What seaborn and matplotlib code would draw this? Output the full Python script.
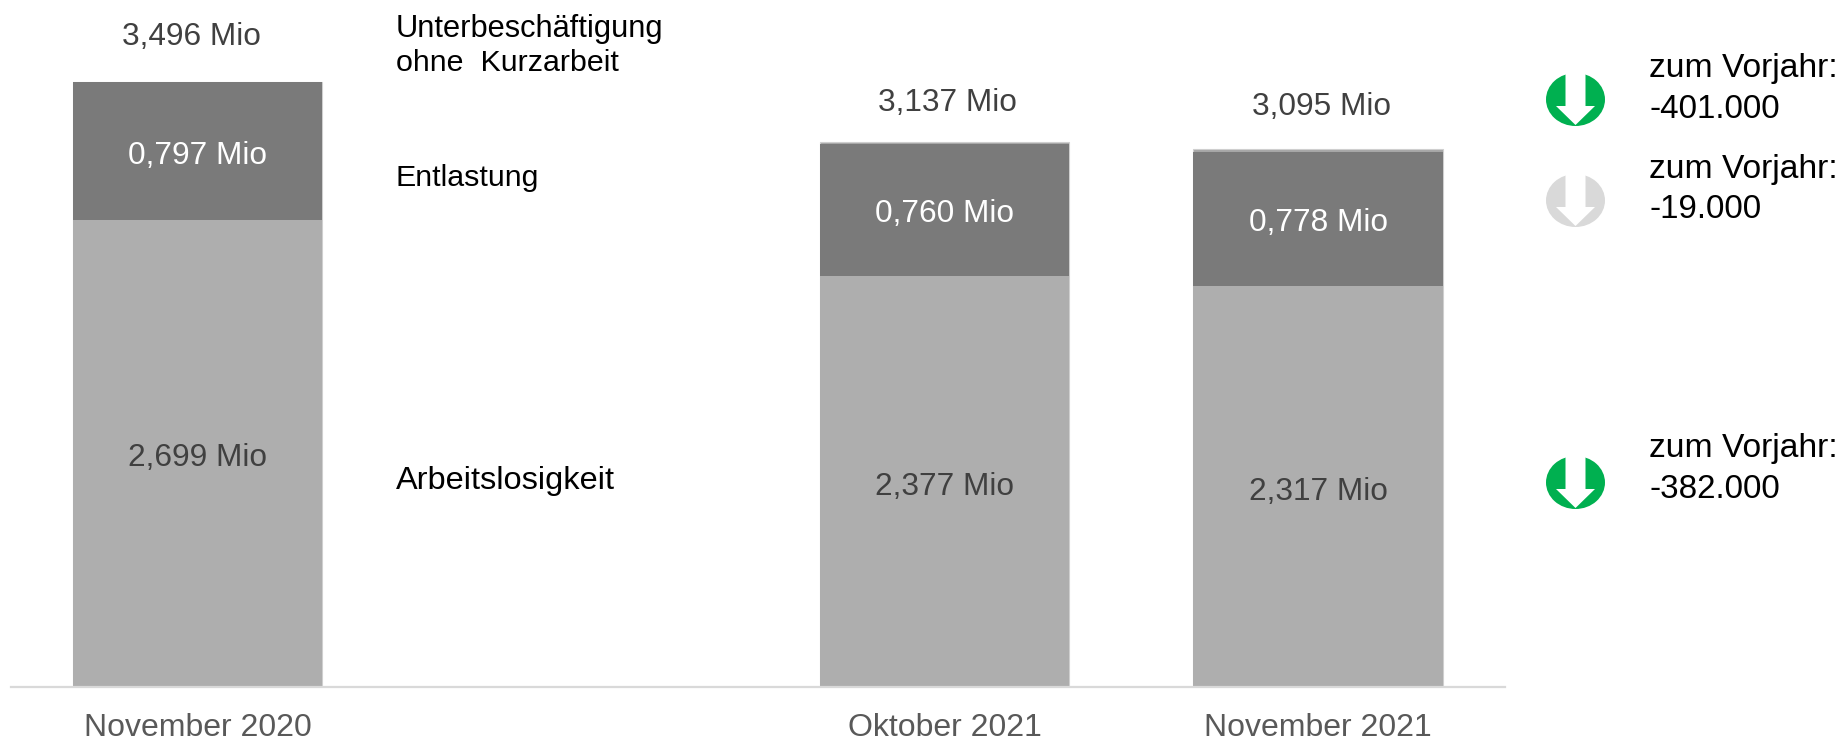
import matplotlib
matplotlib.use("Agg")
import matplotlib.pyplot as plt
from matplotlib.patches import Ellipse, Polygon
import pandas as pd
import seaborn as sns

W, H = 1844, 739
categories = ["November 2020", " ", "Oktober 2021", "November 2021"]
arbeitslosigkeit = [2.699, None, 2.377, 2.317]
entlastung = [0.797, None, 0.760, 0.778]
unterbeschaeftigung = [0.0, None, 0.012, 0.012]
totals = ["3,496 Mio", "", "3,137 Mio", "3,095 Mio"]
entl_labels = ["0,797 Mio", "", "0,760 Mio", "0,778 Mio"]
arb_labels = ["2,699 Mio", "", "2,377 Mio", "2,317 Mio"]
series_lines = ["Unterbeschäftigung", "ohne  Kurzarbeit", "Entlastung", "Arbeitslosigkeit"]
delta_head = "zum Vorjahr:"
delta_values = ["-401.000", "-19.000", "-382.000"]
icon_colors = ["#00B050", "#D9D9D9", "#00B050"]

# layout, in pixels of the output picture
series_y = [29, 63, 177.5, 481.5]
series_size = [22.2, 21.9, 21.9, 23.4]
delta_y = [69, 169.5, 449]
icon_y = [99.5, 200.5, 482.5]
total_off = [(-6, 44.7), (0, 0), (2.5, 41.7), (3, 45)]
entl_off = [4.7, 0, 3.8, 3.8]
arb_off = [4.5, 0, 5.5, 5.5]

sns.set_theme(style="white")
plt.rcParams["font.family"] = ["Liberation Sans", "DejaVu Sans"]
fig = plt.figure(figsize=(W / 100, H / 100), dpi=100)
XL, XR, YT, YB = 10.75, 1504.75, 0, 687
ax = fig.add_axes([XL / W, 1 - YB / H, (XR - XL) / W, (YB - YT) / H])

df = pd.DataFrame({"cat": categories, "a": arbeitslosigkeit, "e": entlastung, "u": unterbeschaeftigung})
df["ae"] = df["a"] + df["e"]
df["aeu"] = df["ae"] + df["u"]
sns.barplot(data=df, x="cat", y="aeu", order=categories, color="#A6A6A6", saturation=1,
            width=0.667, ax=ax, linewidth=0.8, edgecolor="#CFCFCF", errorbar=None)
for col, color in [("ae", "#7A7A7A"), ("a", "#AEAEAE")]:
    sns.barplot(data=df, x="cat", y=col, order=categories, color=color, saturation=1,
                width=0.667, ax=ax, linewidth=0, errorbar=None)

ax.set_xlim(-0.5, 3.5)
ax.set_ylim(0, 687 / 173.0)
ax.set_xlabel("")
ax.set_ylabel("")
ax.set_yticks([])
ax.tick_params(axis="x", length=0, pad=19, labelsize=23, colors="#595959")
sns.despine(ax=ax, left=True)
ax.spines["bottom"].set_color("#D9D9D9")
ax.spines["bottom"].set_linewidth(1.6)

FS = 22.8
PT = 72 / 100  # points per output pixel
for i in range(len(categories)):
    if not totals[i]:
        continue
    a, e = arbeitslosigkeit[i], entlastung[i]
    common = dict(textcoords="offset points", ha="center", va="center", fontsize=FS)
    ax.annotate(arb_labels[i], (i, a / 2), xytext=(0, -arb_off[i] * PT), color="#404040", **common)
    ax.annotate(entl_labels[i], (i, a + e / 2), xytext=(0, -entl_off[i] * PT), color="white", **common)
    ax.annotate(totals[i], (i, a + e),
                xytext=(total_off[i][0] * PT, total_off[i][1] * PT), color="#404040", **common)

def px(x, y):
    return x / W, 1 - y / H

for label, y, size in zip(series_lines, series_y, series_size):
    fig.text(*px(396, y), label, ha="left", va="center", fontsize=size, color="black")

for value, y in zip(delta_values, delta_y):
    fig.text(*px(1649, y), delta_head, ha="left", va="center", fontsize=24.2, color="black")
    fig.text(*px(1649, y + 40.5), value, ha="left", va="center", fontsize=23.9, color="black")

ov = fig.add_axes([0, 0, 1, 1], facecolor="none")
ov.set_xlim(0, W)
ov.set_ylim(H, 0)
ov.axis("off")
cx = 1575.5
for color, cy in zip(icon_colors, icon_y):
    ov.add_patch(Ellipse((cx, cy), 59, 53, facecolor=color, edgecolor="none"))
    ov.add_patch(Polygon([(cx - 10, cy - 28), (cx + 10, cy - 28), (cx + 10, cy + 6.5), (cx + 19.5, cy + 6.5),
                          (cx, cy + 25.5), (cx - 19.5, cy + 6.5), (cx - 10, cy + 6.5)],
                         closed=True, facecolor="white", edgecolor="none"))

fig.savefig("out.png", dpi=100, facecolor="white")
